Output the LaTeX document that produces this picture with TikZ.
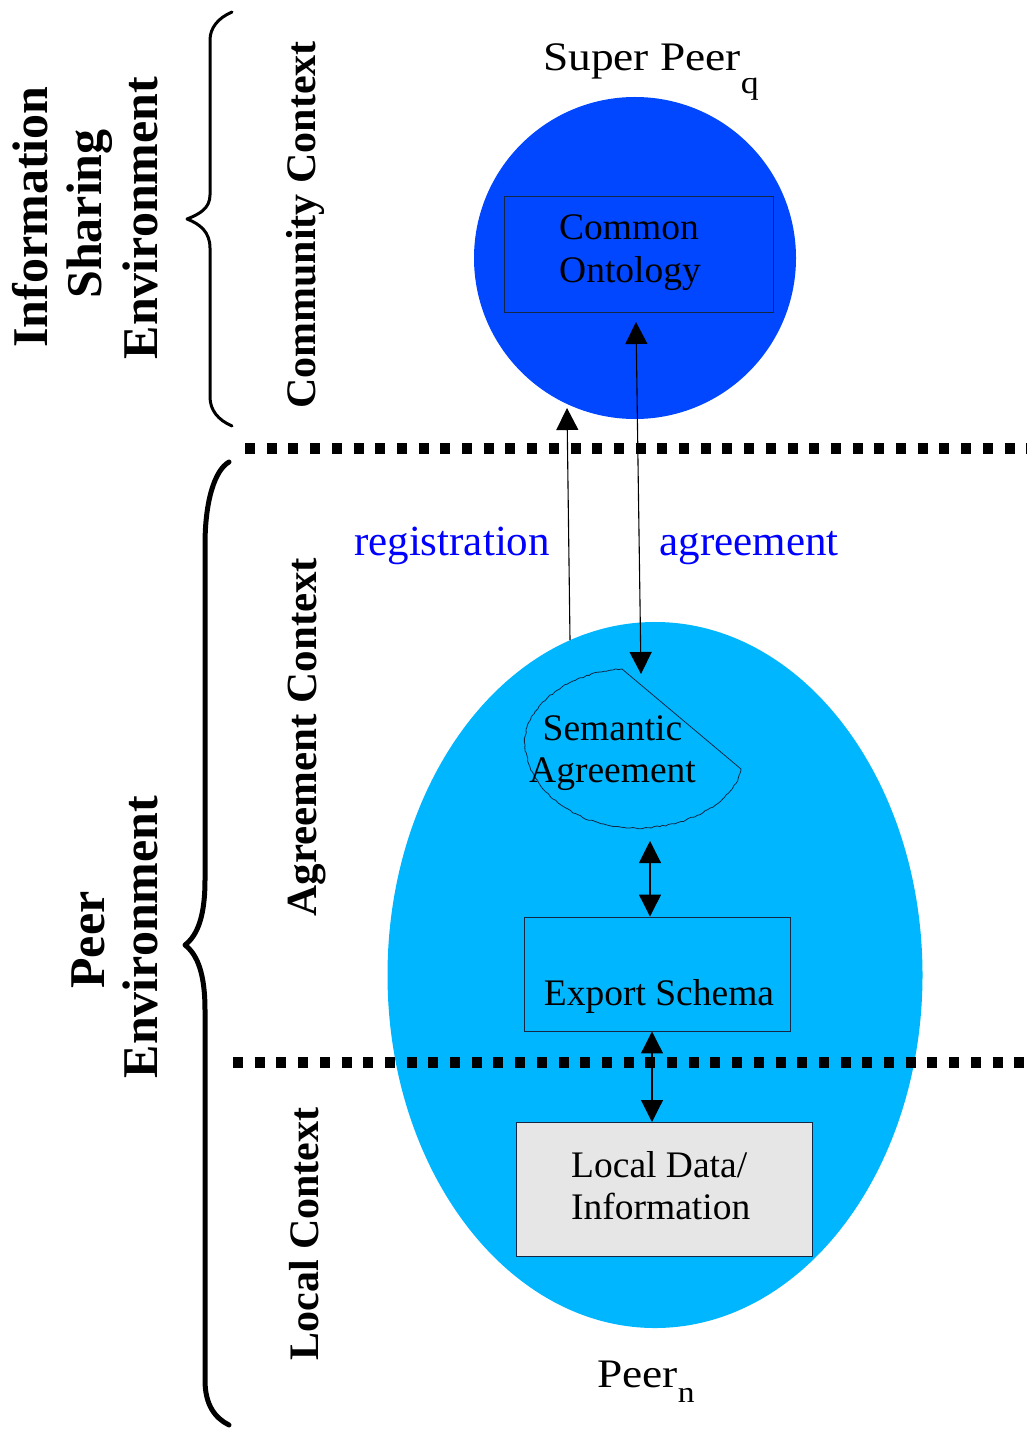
\documentclass[tikz,border=0pt]{standalone}
\usepackage{fontspec}
\setmainfont{Liberation Serif}
\newfontfamily\widefont[FakeStretch=1.12]{Liberation Serif}
\usetikzlibrary{arrows.meta,shapes.geometric,decorations.pathmorphing}
\definecolor{superblue}{RGB}{0,71,255}
\definecolor{peerblue}{RGB}{0,183,255}
\definecolor{localgray}{RGB}{230,230,230}
\definecolor{labelblue}{RGB}{0,0,255}
\definecolor{edgedark}{RGB}{20,40,70}

\begin{document}
\begin{tikzpicture}[x=1bp,y=-1bp,
  inner/.style={font=\fontsize{37.5bp}{43bp}\selectfont, inner sep=0pt},
  title/.style={font=\widefont\fontsize{40.5bp}{46bp}\selectfont, inner sep=0pt, anchor=base west},
  envlabel/.style={font=\fontsize{50bp}{54bp}\selectfont\bfseries, rotate=90, inner sep=0pt, anchor=base},
  ctxlabel/.style={font=\fontsize{#1bp}{50bp}\selectfont\bfseries, rotate=90, inner sep=0pt, anchor=base},
  flowlabel/.style={font=\fontsize{43bp}{50bp}\selectfont, text=labelblue, inner sep=0pt, anchor=base},
  head/.tip={Triangle[width=22bp,length=22bp]},
  link/.style={line width=1.1bp},
  dots/.style={line width=11bp, dash pattern=on 10bp off 11.7bp},
  brace/.style={line cap=round, line join=round}
]
\useasboundingbox (0,0) rectangle (1027,1429);

% peers
\node[circle, fill=superblue, minimum size=322bp, inner sep=0pt] (sp) at (635,258) {};
\node[ellipse, fill=peerblue, minimum width=535bp, minimum height=706bp, inner sep=0pt] (peer) at (655,975) {};

% boxes and their texts
\node[draw=edgedark, line width=0.9bp, fill=superblue, minimum width=269bp, minimum height=116bp, inner sep=0pt] (co) at (638.5,254) {};
\node[inner, anchor=base west] (co1) at (559,239) {Common};
\node[inner, anchor=base west] (co2) at (559,282) {Ontology};

\node[draw=edgedark, line width=0.9bp, fill=peerblue, minimum width=266bp, minimum height=114bp, inner sep=0pt] (es) at (657,974) {};
\node[inner, anchor=base] (estext) at (659,1005) {Export Schema};

\node[draw=edgedark, line width=0.9bp, fill=localgray, minimum width=296bp, minimum height=134bp, inner sep=0pt] (ld) at (664,1189) {};
\node[inner, anchor=base west] (ld1) at (571,1177) {Local Data/};
\node[inner, anchor=base west] (ld2) at (571,1219) {Information};

% semantic agreement outline
\pgfmathsetseed{7}
\draw[line width=0.8bp, line join=round, draw=edgedark]
  (622,669) -- (741,769)
  decorate[decoration={random steps, segment length=3bp, amplitude=0.7bp}]{
  .. controls (735,800) and (690,830) .. (630,828)
  .. controls (575,826) and (528,790) .. (525,745)
  .. controls (523,705) and (570,672) .. (622,669)};
\node[inner, anchor=base] (sa1) at (612.5,740) {Semantic};
\node[inner, anchor=base] (sa2) at (612.5,782) {Agreement};

% section separators
\coordinate (sepA) at (245,448);
\coordinate (sepAend) at (1027,448);
\coordinate (sepB) at (233,1062);
\coordinate (sepBend) at (1027,1062);

% connectors
\coordinate (regfoot) at (570,640);
\coordinate (regtip) at (567,408);
\draw[link, -head] (regfoot) -- (regtip);
\coordinate (agrtop) at (636,322);
\coordinate (agrbot) at (641,674);
\draw[link, head-head] (agrtop) -- (agrbot);
\coordinate (satip) at (650,841);
\draw[link, head-head] (satip) -- (es.north -| satip);
\coordinate (ldtip) at (652,1122);
\draw[link, head-head] (es.south -| ldtip) -- (ldtip);

\draw[dots] (sepA) -- (sepAend);
\draw[dots] (sepB) -- (sepBend);

% titles and flow labels
\node[title] (sptitle) at (543,71) {Super Peer\raisebox{-23bp}{\fontsize{32bp}{36bp}\selectfont q}};
\node[title] (peertitle) at (597,1387) {Peer\raisebox{-15bp}{\fontsize{30bp}{34bp}\selectfont n}};
\node[flowlabel] (reg) at (452,555) {registration};
\node[flowlabel] (agr) at (749,555) {agreement};

% braces
\draw[brace, line width=3bp] (232,12) .. controls (218,18) and (210,28) .. (210,40)
  -- (210,195) .. controls (210,208) and (200,214) .. (187,219)
  .. controls (200,224) and (210,232) .. (210,248)
  -- (210,397) .. controls (210,410) and (218,420) .. (232,426);
\draw[brace, line width=5bp] (229,462) .. controls (215,470) and (205,500) .. (205,545)
  -- (205,880) .. controls (205,915) and (198,935) .. (185,945)
  .. controls (198,955) and (205,975) .. (205,1010)
  -- (205,1380) .. controls (205,1405) and (215,1418) .. (229,1425);

% side labels
\node[envlabel] (ise1) at (47,217) {Information};
\node[envlabel] (ise2) at (101,214) {Sharing};
\node[envlabel] (ise3) at (157,218) {Environment};
\node[envlabel] (pe1) at (104,940) {Peer};
\node[envlabel] (pe2) at (157,937) {Environment};
\node[ctxlabel=42] (cc) at (315,225) {Community Context};
\node[ctxlabel=43] (ac) at (316,737) {Agreement Context};
\node[ctxlabel=42] (lc) at (318,1234) {Local Context};
\end{tikzpicture}
\end{document}
